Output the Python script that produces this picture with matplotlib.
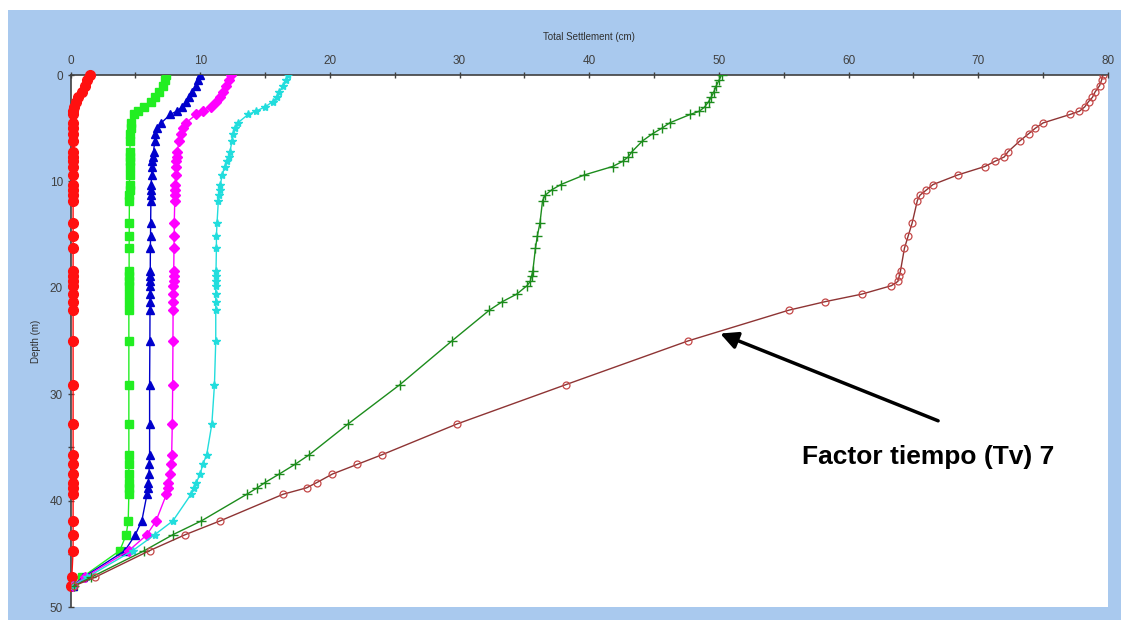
import numpy as np
import matplotlib
matplotlib.use('Agg')
import matplotlib.pyplot as plt
from matplotlib.patches import Rectangle
from matplotlib.ticker import MultipleLocator

plt.rcParams['font.family'] = ['Liberation Sans', 'DejaVu Sans']

# depth nodes shared by all curves (m)
depth = [0.0, 0.5, 1.0, 1.6, 2.1, 2.5, 3.0, 3.4, 3.7,
         4.5, 5.0, 5.5, 6.2, 7.2, 7.7, 8.1, 8.6, 9.4,
         10.3, 10.8, 11.3, 11.8, 13.9, 15.1, 16.3,
         18.4, 18.9, 19.4, 19.8, 20.6, 21.3, 22.1,
         25.0, 29.1, 32.8,
         35.7, 36.6, 37.5, 38.3, 38.8, 39.4,
         41.9, 43.2, 44.7, 47.2, 48.0]

# total settlement (cm) for each time factor curve
s_red = [1.5, 1.3, 1.1, 0.85, 0.6, 0.4, 0.25, 0.2, 0.2,
         0.2, 0.2, 0.2, 0.2, 0.2, 0.2, 0.2, 0.2, 0.2,
         0.2, 0.2, 0.2, 0.2, 0.2, 0.2, 0.2,
         0.2, 0.2, 0.2, 0.2, 0.2, 0.2, 0.2,
         0.2, 0.2, 0.2,
         0.2, 0.2, 0.2, 0.2, 0.2, 0.2,
         0.2, 0.2, 0.2, 0.1, 0.0]
s_green = [7.4, 7.3, 7.1, 6.8, 6.5, 6.2, 5.7, 5.2, 4.9,
           4.7, 4.65, 4.6, 4.6, 4.58, 4.57, 4.56, 4.55, 4.55,
           4.55, 4.55, 4.54, 4.54, 4.53, 4.53, 4.52,
           4.52, 4.52, 4.51, 4.51, 4.51, 4.5, 4.5,
           4.5, 4.5, 4.5,
           4.5, 4.5, 4.5, 4.5, 4.5, 4.5,
           4.45, 4.3, 3.8, 0.9, 0.2]
s_blue = [10.0, 9.85, 9.7, 9.4, 9.1, 8.9, 8.6, 8.2, 7.7,
          7.0, 6.7, 6.55, 6.5, 6.4, 6.35, 6.3, 6.3, 6.25,
          6.22, 6.2, 6.2, 6.2, 6.18, 6.17, 6.16,
          6.15, 6.15, 6.15, 6.15, 6.14, 6.14, 6.13,
          6.12, 6.1, 6.1,
          6.1, 6.08, 6.05, 6.0, 5.95, 5.9,
          5.5, 5.0, 4.2, 1.0, 0.2]
s_magenta = [12.4, 12.2, 12.0, 11.75, 11.5, 11.2, 10.8, 10.2, 9.7,
             8.9, 8.7, 8.55, 8.35, 8.25, 8.2, 8.15, 8.12, 8.1,
             8.08, 8.06, 8.05, 8.04, 8.0, 8.0, 7.98,
             7.96, 7.95, 7.95, 7.94, 7.93, 7.92, 7.91,
             7.9, 7.88, 7.85,
             7.8, 7.75, 7.65, 7.55, 7.5, 7.4,
             6.6, 5.9, 4.5, 1.1, 0.2]
s_cyan = [16.8, 16.6, 16.4, 16.1, 15.9, 15.6, 15.0, 14.3, 13.7,
          12.9, 12.7, 12.55, 12.45, 12.3, 12.2, 12.05, 11.9, 11.7,
          11.55, 11.5, 11.45, 11.4, 11.3, 11.25, 11.25,
          11.22, 11.22, 11.2, 11.2, 11.2, 11.2, 11.2,
          11.2, 11.1, 10.9,
          10.5, 10.2, 10.0, 9.7, 9.5, 9.3,
          7.9, 6.5, 4.8, 1.3, 0.2]
s_dkgreen = [50.2, 50.0, 49.8, 49.6, 49.4, 49.2, 48.9, 48.5, 47.8,
             46.2, 45.6, 44.9, 44.1, 43.3, 43.0, 42.6, 41.8, 39.6,
             37.8, 37.1, 36.6, 36.4, 36.2, 36.0, 35.85,
             35.65, 35.55, 35.45, 35.2, 34.4, 33.3, 32.3,
             29.4, 25.4, 21.4,
             18.4, 17.3, 16.1, 15.0, 14.4, 13.6,
             10.1, 7.9, 5.7, 1.6, 0.3]
s_brown = [79.6, 79.5, 79.35, 79.0, 78.8, 78.5, 78.2, 77.8, 77.1,
           75.0, 74.4, 73.9, 73.2, 72.3, 72.0, 71.3, 70.5, 68.4,
           66.5, 66.0, 65.5, 65.3, 64.9, 64.6, 64.3,
           64.0, 63.9, 63.8, 63.3, 61.0, 58.2, 55.4,
           47.6, 38.2, 29.8,
           24.0, 22.1, 20.2, 19.0, 18.2, 16.4,
           11.55, 8.85, 6.1, 1.9, 0.3]

note_text = 'Factor tiempo (Tv) 7'
note_tip = (50.1, 24.3)
note_tail = (66.9, 32.5)
note_pos = (66.1, 35.9)

W, H = 1121, 622
fig = plt.figure(figsize=(W / 100, H / 100), dpi=100)
fig.patch.set_facecolor('white')
fig.patches.append(Rectangle((8 / W, 2 / H), (W - 8) / W, (H - 12) / H,
                             transform=fig.transFigure, facecolor='#a9c9ee',
                             edgecolor='none', zorder=-10))

ax = fig.add_axes([70.5 / W, 15 / H, (1108 - 70.5) / W, (607 - 75) / H])
ax.set_facecolor('white')

d = np.array(depth)
ax.plot(s_red, d, '-o', color='#ff1010', lw=1, ms=7, zorder=3, clip_on=False)
ax.plot(s_green, d, '-s', color='#22ee22', lw=1, ms=6, zorder=3)
ax.plot(s_blue, d, '-^', color='#0000cc', lw=1, ms=6, zorder=3)
ax.plot(s_magenta, d, '-D', color='#ff00ff', lw=1, ms=5.5, zorder=3)
ax.plot(s_cyan, d, '-*', color='#22dddd', lw=1, ms=6, zorder=3)
ax.plot(s_dkgreen, d, '-+', color='#1c8c1c', lw=1, ms=7, mew=1, zorder=4)
ax.plot(s_brown, d, '-', color='#8e3434', lw=1, zorder=4)
ax.plot(s_brown, d, 'o', mfc='none', mec='#c44848', ms=5, mew=0.9, zorder=4)

ax.set_xlim(0, 80)
ax.set_ylim(50, 0)
ax.xaxis.tick_top()
ax.xaxis.set_label_position('top')
ax.xaxis.set_major_locator(MultipleLocator(10))
ax.xaxis.set_minor_locator(MultipleLocator(5))
ax.yaxis.set_major_locator(MultipleLocator(10))
ax.yaxis.set_minor_locator(MultipleLocator(5))
ax.tick_params(which='both', direction='inout', length=5, width=1,
               color='#404040', labelsize=8.5, labelcolor='#404040', pad=3)
for side in ['right', 'bottom']:
    ax.spines[side].set_visible(False)
for side in ['left', 'top']:
    ax.spines[side].set_color('#404040')
    ax.spines[side].set_linewidth(1.2)

ax.set_xlabel('Total Settlement (cm)', fontsize=7, color='#303030', labelpad=11)
ax.set_ylabel('Depth (m)', fontsize=7, color='#303030', labelpad=6)

ax.annotate('', xy=note_tip, xytext=note_tail,
            arrowprops=dict(arrowstyle='-|>', lw=2.5, color='black',
                            mutation_scale=26, shrinkA=0, shrinkB=0))
ax.text(note_pos[0], note_pos[1], note_text, ha='center', va='center',
        fontsize=19, fontweight='bold', color='black')

fig.savefig('out.png', dpi=100)
